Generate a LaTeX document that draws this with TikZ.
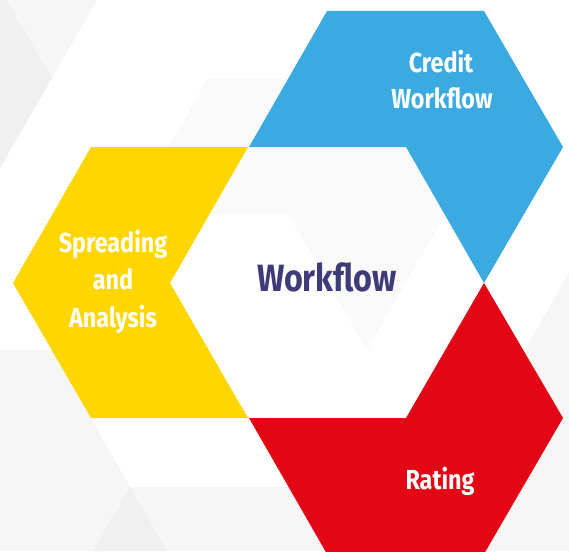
\documentclass[tikz,border=0pt]{standalone}
\usepackage{fontspec}
\setmainfont{Fira Sans}[FakeStretch=0.85]
\definecolor{hexblue}{HTML}{3BAAE1}
\definecolor{hexyellow}{HTML}{FFD600}
\definecolor{hexred}{HTML}{E30716}
\definecolor{navy}{HTML}{3D3B78}
\definecolor{bgA}{HTML}{F0F0F0}
\definecolor{bgB}{HTML}{F6F6F6}
\definecolor{bgC}{HTML}{FAFAFA}
\begin{document}
\begin{tikzpicture}[x=1pt,y=-1pt,
  lbl/.style={text=white,font=\bfseries\fontsize{27.5}{33}\selectfont,anchor=base,inner sep=0pt},
  mainlbl/.style={text=navy,font=\bfseries\fontsize{38}{44}\selectfont,anchor=base,inner sep=0pt}]
\useasboundingbox (0,0) rectangle (569,551);
\fill[white] (0,0) rectangle (569,551);
% background pattern
\fill[bgA] (0,0) -- (7,0) -- (52,78) -- (0,168) -- cycle;
\fill[bgB] (7,0) -- (97,0) -- (52,78) -- cycle;
\fill[bgC] (208,78) -- (524,78) -- (367,350) -- (288,214) -- (130,214) -- cycle;
\fill[bgB] (0,350) -- (52,350) -- (130,487) -- (330,487) -- (330,551) -- (0,551) -- cycle;
\fill[bgA] (130,487) -- (93,551) -- (167,551) -- cycle;
\fill[bgB] (569,273) -- (409,551) -- (569,551) -- cycle;
% coloured hexagons
\fill[hexyellow] (91,147) -- (248,147) -- (170,283) -- (248,418) -- (91,418) -- (13,283) -- cycle;
\fill[hexblue] (249,147) -- (327,11) -- (484,11) -- (563,147) -- (484,283) -- (406,147) -- cycle;
\fill[hexred] (249,418) -- (406,418) -- (484,283) -- (563,418) -- (484,554) -- (327,554) -- cycle;
% labels
\node[lbl] (cw1) at (441,72) {Credit};
\node[lbl] (cw2) at (442,108) {Workflow};
\node[lbl] (sa1) at (113,252) {Spreading};
\node[lbl] (sa2) at (113,289) {and};
\node[lbl] (sa3) at (113,327) {Analysis};
\node[lbl] (rt) at (440,489) {Rating};
\node[mainlbl] (wf) at (327,291) {Workflow};
\end{tikzpicture}
\end{document}
